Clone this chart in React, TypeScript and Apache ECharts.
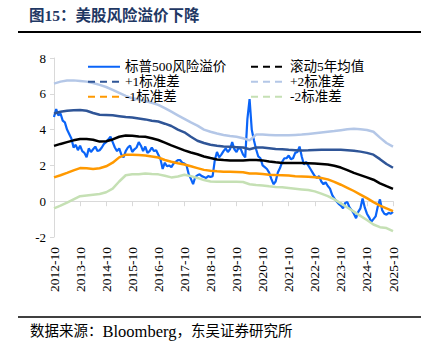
import React, { useEffect, useRef } from "react";
import * as echarts from "echarts";

// Monthly S&P 500 equity risk premium, starting 2012-10 (index 0) to 2025-10 (index 156)
const spxErp = [
  4.7, 5.15, 4.8, 4.9, 4.5, 4.4, 4.0, 3.75, 3.5, 3.0, 3.15, 2.85,
  3.1, 2.8, 2.7, 2.45, 2.95, 2.75, 2.9, 3.05, 2.8, 2.85, 3.0, 3.2,
  3.3, 3.45, 3.6, 3.3, 3.0, 2.8, 2.95, 2.6, 2.45, 2.8, 3.0, 3.1,
  2.75, 2.9, 3.0, 3.3, 3.1, 2.8, 3.05, 2.7, 2.8, 3.0, 2.8, 2.85,
  2.6, 2.35, 1.8, 2.15, 1.95, 2.0, 1.9, 2.1, 2.2, 2.3, 2.3, 2.15,
  2.1, 2.0, 1.5, 1.25, 0.95, 1.35, 1.45, 1.5, 1.4, 1.35, 1.3, 1.4,
  1.35, 1.4, 2.3, 2.75, 2.45, 2.6, 2.8, 2.95, 2.75, 2.9, 3.3, 2.9,
  2.75, 3.0, 2.9, 2.6, 2.45, 4.6, 5.7, 4.0, 3.4, 2.9, 2.5, 2.4,
  2.0, 1.9, 1.8, 1.6, 1.25, 0.95, 1.1, 1.6, 1.85, 2.2, 2.4, 2.4,
  2.55, 2.35, 2.4, 2.7, 2.75, 3.05, 2.5, 2.05, 2.2, 2.0, 1.8, 1.6,
  1.4, 1.3, 1.4, 1.1, 0.95, 1.05, 0.85, 0.7, 0.35, 0.15, 0.0, -0.15,
  -0.25, -0.4, -0.1, -0.05, -0.35, -0.5, -0.7, -0.95, -0.6, -0.4, 0.15, -0.35,
  -0.7, -0.9, -1.15, -1.0, -0.85, -0.3, 0.1, -0.5, -0.7, -0.75, -0.65, -0.7,
  -0.6,
];

// Quarterly values (every 3 months from 2012-10)
const rollingMean = [
  3.09, 3.2, 3.3, 3.4, 3.48, 3.47, 3.43, 3.33, 3.35, 3.45, 3.6, 3.67,
  3.66, 3.62, 3.6, 3.52, 3.42, 3.27, 3.12, 2.98, 2.84, 2.72, 2.62, 2.5,
  2.41, 2.33, 2.3, 2.28, 2.27, 2.27, 2.3, 2.3, 2.28, 2.22, 2.17, 2.14,
  2.13, 2.13, 2.13, 2.12, 2.1, 2.08, 2.05, 1.98, 1.88, 1.74, 1.58, 1.46,
  1.33, 1.2, 1.0, 0.84, 0.69,
];
const plus1Std = [
  4.9, 5.0, 5.05, 5.08, 5.09, 5.05, 4.93, 4.83, 4.82, 4.8, 4.75, 4.7,
  4.67, 4.62, 4.57, 4.5, 4.45, 4.33, 4.2, 4.0, 3.85, 3.6, 3.38, 3.25,
  3.15, 3.1, 3.06, 3.04, 3.02, 3.0, 2.9, 3.0, 3.0, 2.96, 2.92, 2.9,
  2.87, 2.85, 2.83, 2.84, 2.86, 2.87, 2.87, 2.87, 2.87, 2.85, 2.82, 2.77,
  2.7, 2.6, 2.35, 2.08, 1.87,
];
const plus2Std = [
  6.57, 6.68, 6.74, 6.75, 6.72, 6.68, 6.6, 6.5, 6.38, 6.22, 6.05, 5.88,
  5.75, 5.68, 5.6, 5.5, 5.38, 5.2, 5.0, 4.8, 4.6, 4.4, 4.22, 4.0,
  3.88, 3.78, 3.7, 3.64, 3.6, 3.52, 3.4, 3.72, 3.72, 3.7, 3.68, 3.68,
  3.68, 3.7, 3.72, 3.76, 3.8, 3.84, 3.88, 3.92, 3.97, 4.02, 4.05, 4.02,
  3.98, 3.88, 3.55, 3.25, 3.05,
];
const minus1Std = [
  1.33, 1.45, 1.58, 1.72, 1.85, 1.84, 1.8, 1.84, 1.95, 2.15, 2.45, 2.6,
  2.6, 2.58, 2.55, 2.5, 2.44, 2.3, 2.2, 2.12, 2.05, 1.95, 1.85, 1.75,
  1.7, 1.67, 1.65, 1.64, 1.63, 1.62, 1.55, 1.55, 1.52, 1.48, 1.46, 1.45,
  1.43, 1.4, 1.38, 1.36, 1.34, 1.3, 1.22, 1.08, 0.92, 0.75, 0.57, 0.37,
  0.17, -0.05, -0.25, -0.4, -0.55,
];
const minus2Std = [
  -0.4, -0.25, -0.08, 0.1, 0.28, 0.32, 0.36, 0.4, 0.5, 0.7, 1.1, 1.45,
  1.5, 1.5, 1.55, 1.52, 1.5, 1.42, 1.33, 1.38, 1.48, 1.4, 1.3, 1.18,
  1.1, 1.08, 1.08, 1.08, 1.08, 1.07, 0.95, 0.9, 0.88, 0.83, 0.8, 0.78,
  0.74, 0.7, 0.66, 0.62, 0.55, 0.42, 0.28, 0.1, -0.12, -0.35, -0.58, -0.82,
  -1.05, -1.3, -1.45, -1.5, -1.67,
];

const startYear = 2012;
const yTicks = { min: -2, max: 8, interval: 2 };

const SERIF = "'Liberation Serif', 'Times New Roman', 'Noto Sans CJK SC', serif";

export default function App() {
  const ref = useRef<HTMLDivElement>(null);

  useEffect(() => {
    if (!ref.current) return;
    const chart = echarts.init(ref.current, undefined, { renderer: "svg" });
    const monthly = (arr: number[]) => arr.map((v, i) => [i, v]);
    const quarterly = (arr: number[]) => arr.map((v, i) => [i * 3, v]);
    const lastIdx = spxErp.length - 1;

    const mk = (name: string, data: number[][], color: string, width: number, z: number) => ({
      name,
      type: "line",
      data,
      xAxisIndex: 0,
      yAxisIndex: 0,
      symbol: "none",
      showSymbol: false,
      smooth: false,
      z,
      lineStyle: { color, width },
      itemStyle: { color },
    });

    const legendText = { fontFamily: SERIF, fontSize: 13.5, color: "#000" };
    const hiddenSymbol = { opacity: 0 };
    const dash = { type: [7, 5] };

    chart.setOption({
      animation: false,
      backgroundColor: "#fff",
      grid: { left: 54, right: 32, top: 58, bottom: 121, containLabel: false },
      legend: [
        {
          orient: "vertical",
          left: 82,
          top: 55,
          itemWidth: 32,
          itemHeight: 8,
          itemGap: 1.5,
          itemTextGap: 4,
          itemStyle: hiddenSymbol,
          textStyle: legendText,
          data: [
            { name: "标普500风险溢价", itemStyle: hiddenSymbol },
            { name: "+1标准差", lineStyle: dash, itemStyle: hiddenSymbol },
            { name: "-1标准差", lineStyle: dash, itemStyle: hiddenSymbol },
          ],
        },
        {
          orient: "vertical",
          left: 245,
          top: 55,
          itemWidth: 34,
          itemHeight: 8,
          itemGap: 1.5,
          itemTextGap: 4,
          itemStyle: hiddenSymbol,
          textStyle: legendText,
          data: [
            { name: "滚动5年均值", lineStyle: dash, itemStyle: hiddenSymbol },
            { name: "+2标准差", lineStyle: dash, itemStyle: hiddenSymbol },
            { name: "-2标准差", lineStyle: dash, itemStyle: hiddenSymbol },
          ],
        },
      ],
      xAxis: [
        {
          type: "value",
          min: 0,
          max: lastIdx,
          interval: 12,
          position: "bottom",
          axisLine: { show: true, onZero: true, lineStyle: { color: "#d9d9d9", width: 1 } },
          axisTick: { show: true, length: 5, lineStyle: { color: "#d9d9d9" } },
          axisLabel: { show: false },
          splitLine: { show: false },
        },
        {
          type: "value",
          min: 0,
          max: lastIdx,
          interval: 12,
          position: "bottom",
          axisLine: { show: false, onZero: false },
          axisTick: { show: false },
          splitLine: { show: false },
          axisLabel: {
            show: true,
            rotate: 90,
            margin: 10,
            fontFamily: SERIF,
            fontSize: 13.5,
            color: "#000",
            showMinLabel: true,
            showMaxLabel: true,
            formatter: (v: number) => `${startYear + Math.round(v / 12)}-10`,
          },
        },
      ],
      yAxis: {
        type: "value",
        min: yTicks.min,
        max: yTicks.max,
        interval: yTicks.interval,
        axisLine: { show: true, lineStyle: { color: "#d9d9d9", width: 1 } },
        axisTick: { show: true, length: 4, lineStyle: { color: "#d9d9d9" } },
        splitLine: { show: false },
        axisLabel: { fontFamily: SERIF, fontSize: 13, color: "#000", margin: 8 },
      },
      series: [
        mk("标普500风险溢价", monthly(spxErp), "#0a64f8", 2.2, 2),
        mk("滚动5年均值", quarterly(rollingMean), "#000000", 2.5, 3),
        mk("+1标准差", quarterly(plus1Std), "#2f5597", 2.5, 3),
        mk("+2标准差", quarterly(plus2Std), "#b4c7e7", 2.5, 3),
        mk("-1标准差", quarterly(minus1Std), "#ff9900", 2.5, 3),
        mk("-2标准差", quarterly(minus2Std), "#c5e0b4", 2.5, 3),
      ],
      graphic: [
        {
          type: "text",
          left: 29,
          top: 8,
          style: {
            text: "图15：美股风险溢价下降",
            fontFamily: SERIF,
            fontSize: 15.5,
            fontWeight: "bold",
            fill: "#1f3864",
          },
        },
        {
          type: "line",
          shape: { x1: 18, y1: 32, x2: 421, y2: 32 },
          style: { stroke: "#000", lineWidth: 2 },
        },
        {
          type: "line",
          shape: { x1: 18, y1: 317, x2: 421, y2: 317 },
          style: { stroke: "#000", lineWidth: 1.5 },
        },
        {
          type: "text",
          left: 30,
          top: 323,
          style: {
            text: "{c|数据来源：}{l|Bloomberg}{c|，东吴证券研究所}",
            rich: {
              c: { fontFamily: SERIF, fontSize: 14.5, fill: "#000" },
              l: { fontFamily: SERIF, fontSize: 16.5, fill: "#000" },
            },
          },
        },
      ],
    });

    return () => chart.dispose();
  }, []);

  return (
    <div
      ref={ref}
      style={{ position: "fixed", left: 0, top: 0, width: 425, height: 358 }}
    />
  );
}
